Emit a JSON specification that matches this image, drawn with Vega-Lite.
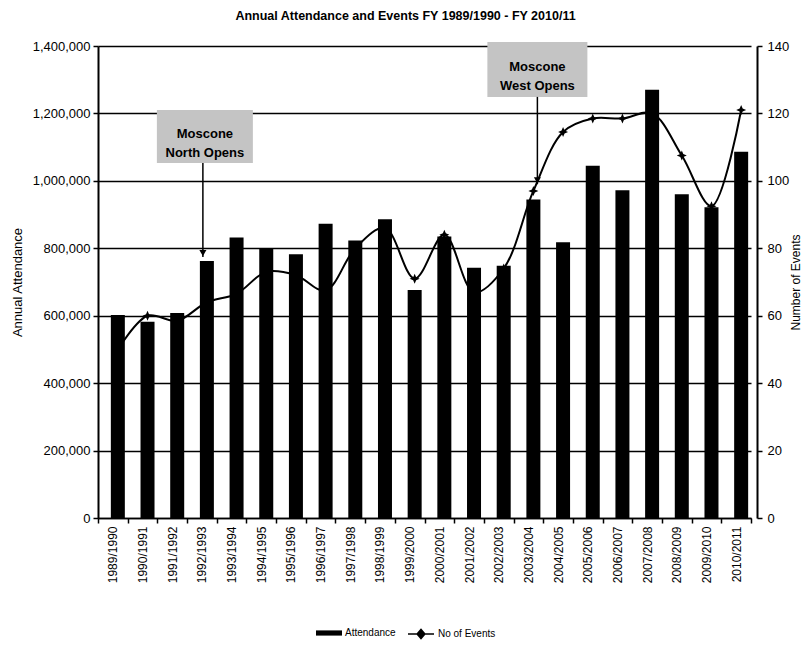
{
  "$schema": "https://vega.github.io/schema/vega-lite/v6.json",
  "width": 659,
  "height": 472,
  "autosize": {"type": "none"},
  "padding": {"left": 98, "top": 46, "right": 52, "bottom": 136},
  "background": "white",
  "config": {
    "font": "Liberation Sans",
    "view": {"stroke": null},
    "axis": {"labelColor": "black", "titleColor": "black", "tickColor": "black", "domainColor": "black"},
    "legend": {"labelColor": "black"}
  },
  "title": {
    "text": "Annual Attendance and Events FY 1989/1990 - FY 2010/11",
    "font": "Liberation Sans",
    "fontSize": 12.5,
    "fontWeight": "bold",
    "color": "black",
    "anchor": "middle",
    "frame": "group",
    "dx": -22,
    "offset": 18
  },
  "datasets": {
    "main": [
      {"season": "1989/1990", "attendance": 602000, "events": 50},
      {"season": "1990/1991", "attendance": 582000, "events": 60},
      {"season": "1991/1992", "attendance": 608000, "events": 58.5},
      {"season": "1992/1993", "attendance": 762000, "events": 64},
      {"season": "1993/1994", "attendance": 832000, "events": 66.5},
      {"season": "1994/1995", "attendance": 798000, "events": 73},
      {"season": "1995/1996", "attendance": 782000, "events": 72},
      {"season": "1996/1997", "attendance": 873000, "events": 67.5},
      {"season": "1997/1998", "attendance": 823000, "events": 80},
      {"season": "1998/1999", "attendance": 886000, "events": 86},
      {"season": "1999/2000", "attendance": 676000, "events": 71},
      {"season": "2000/2001", "attendance": 835000, "events": 84},
      {"season": "2001/2002", "attendance": 742000, "events": 67},
      {"season": "2002/2003", "attendance": 748000, "events": 74},
      {"season": "2003/2004", "attendance": 945000, "events": 97},
      {"season": "2004/2005", "attendance": 818000, "events": 114.5},
      {"season": "2005/2006", "attendance": 1045000, "events": 118.5},
      {"season": "2006/2007", "attendance": 972000, "events": 118.5},
      {"season": "2007/2008", "attendance": 1270000, "events": 120},
      {"season": "2008/2009", "attendance": 960000, "events": 107.5},
      {"season": "2009/2010", "attendance": 922000, "events": 92.5},
      {"season": "2010/2011", "attendance": 1086000, "events": 121}
    ],
    "north": [
      {"season": "1992/1993", "top": 1210000, "bottom": 1053000, "mid": 1140000, "tip": 774000, "label": "Moscone\nNorth Opens"}
    ],
    "west": [
      {"season": "2003/2004", "top": 1412000, "bottom": 1249000, "mid": 1339000, "tip": 990000, "label": "Moscone\nWest Opens"}
    ]
  },
  "layer": [
    {
      "layer": [
        {
          "data": {"name": "main"},
          "mark": {"type": "bar", "width": 14, "xOffset": 5},
          "encoding": {
            "x": {
              "field": "season", "type": "ordinal",
              "scale": {"range": [0, 653], "paddingInner": 0, "paddingOuter": 0},
              "axis": {
                "title": null, "labelAngle": -90, "labelFontSize": 12, "labelPadding": 3,
                "tickBand": "extent", "tickSize": 5, "tickWidth": 1.5,
                "domainWidth": 1.5, "grid": false
              }
            },
            "y": {
              "field": "attendance", "type": "quantitative",
              "scale": {"domain": [0, 1400000], "nice": false},
              "axis": {
                "title": "Annual Attendance", "titleFontSize": 13, "titleFontWeight": "normal",
                "titlePadding": 8,
                "values": [0, 200000, 400000, 600000, 800000, 1000000, 1200000, 1400000],
                "labelExpr": "format(datum.value, ',')", "labelFontSize": 13, "labelPadding": 3,
                "grid": true, "gridColor": "black", "gridWidth": 1.5, "gridOpacity": 1,
                "domainWidth": 2, "tickSize": 5, "tickWidth": 1.5
              }
            },
            "fill": {
              "datum": "Attendance",
              "scale": {"range": ["black"]},
              "legend": {
                "title": null, "orient": "none", "legendX": 218, "legendY": 574,
                "padding": 0, "symbolType": "M-1,-0.2H1V0.2H-1Z", "symbolSize": 676,
                "symbolStrokeWidth": 0, "labelFontSize": 10, "labelOffset": 3
              }
            }
          }
        },
        {
          "data": {"name": "north"},
          "mark": {"type": "bar", "width": 96, "xOffset": 3, "color": "#c4c4c4"},
          "encoding": {
            "x": {"field": "season", "type": "ordinal"},
            "y": {"field": "top", "type": "quantitative", "scale": {"domain": [0, 1400000], "nice": false}},
            "y2": {"field": "bottom"}
          }
        },
        {
          "data": {"name": "north"},
          "mark": {"type": "text", "xOffset": 3, "lineBreak": "\n", "lineHeight": 19, "fontSize": 13, "fontWeight": "bold", "color": "black", "baseline": "middle"},
          "encoding": {
            "x": {"field": "season", "type": "ordinal"},
            "y": {"field": "mid", "type": "quantitative", "scale": {"domain": [0, 1400000], "nice": false}},
            "text": {"field": "label"}
          }
        },
        {
          "data": {"name": "north"},
          "mark": {"type": "rule", "xOffset": 1, "strokeWidth": 1.5, "color": "black"},
          "encoding": {
            "x": {"field": "season", "type": "ordinal"},
            "y": {"field": "bottom", "type": "quantitative", "scale": {"domain": [0, 1400000], "nice": false}},
            "y2": {"field": "tip"}
          }
        },
        {
          "data": {"name": "north"},
          "mark": {"type": "point", "shape": "triangle-down", "filled": true, "size": 50, "color": "black", "opacity": 1, "xOffset": 1, "yOffset": -4},
          "encoding": {
            "x": {"field": "season", "type": "ordinal"},
            "y": {"field": "tip", "type": "quantitative", "scale": {"domain": [0, 1400000], "nice": false}}
          }
        },
        {
          "data": {"name": "west"},
          "mark": {"type": "bar", "width": 100, "xOffset": 9, "color": "#c4c4c4"},
          "encoding": {
            "x": {"field": "season", "type": "ordinal"},
            "y": {"field": "top", "type": "quantitative", "scale": {"domain": [0, 1400000], "nice": false}},
            "y2": {"field": "bottom"}
          }
        },
        {
          "data": {"name": "west"},
          "mark": {"type": "text", "xOffset": 9, "lineBreak": "\n", "lineHeight": 19, "fontSize": 13, "fontWeight": "bold", "color": "black", "baseline": "middle"},
          "encoding": {
            "x": {"field": "season", "type": "ordinal"},
            "y": {"field": "mid", "type": "quantitative", "scale": {"domain": [0, 1400000], "nice": false}},
            "text": {"field": "label"}
          }
        },
        {
          "data": {"name": "west"},
          "mark": {"type": "rule", "xOffset": 9, "strokeWidth": 1.5, "color": "black"},
          "encoding": {
            "x": {"field": "season", "type": "ordinal"},
            "y": {"field": "bottom", "type": "quantitative", "scale": {"domain": [0, 1400000], "nice": false}},
            "y2": {"field": "tip"}
          }
        },
        {
          "data": {"name": "west"},
          "mark": {"type": "point", "shape": "triangle-down", "filled": true, "size": 50, "color": "black", "opacity": 1, "xOffset": 9, "yOffset": -4},
          "encoding": {
            "x": {"field": "season", "type": "ordinal"},
            "y": {"field": "tip", "type": "quantitative", "scale": {"domain": [0, 1400000], "nice": false}}
          }
        }
      ]
    },
    {
      "data": {"name": "main"},
      "layer": [
        {
          "mark": {"type": "line", "interpolate": "catmull-rom", "strokeWidth": 2, "xOffset": 5},
          "encoding": {
            "x": {"field": "season", "type": "ordinal", "scale": {"range": [0, 653], "paddingInner": 0, "paddingOuter": 0}},
            "y": {
              "field": "events", "type": "quantitative",
              "scale": {"domain": [0, 140], "nice": false},
              "axis": {
                "orient": "right", "title": "Number of Events", "titleFontSize": 12, "titleFontWeight": "normal",
                "titleAngle": 270, "titleBaseline": "top", "titlePadding": 2,
                "values": [0, 20, 40, 60, 80, 100, 120, 140], "labelFontSize": 13, "labelPadding": 5,
                "grid": false, "domainWidth": 2, "tickSize": 5, "tickWidth": 1.5
              }
            },
            "stroke": {
              "datum": "No of Events",
              "scale": {"range": ["black"]},
              "legend": {
                "title": null, "orient": "none", "legendX": 309, "legendY": 574,
                "padding": 0, "symbolType": "M-1,0H1M-0.3,0L0,-0.35L0.3,0L0,0.35Z", "symbolSize": 676,
                "symbolFillColor": "black", "symbolStrokeColor": "black", "symbolStrokeWidth": 1.5,
                "labelFontSize": 10, "labelOffset": 3
              }
            }
          }
        },
        {
          "mark": {"type": "point", "shape": "M0,-1L0.3,-0.3L1,0L0.3,0.3L0,1L-0.3,0.3L-1,0L-0.3,-0.3Z", "filled": true, "size": 100, "color": "black", "opacity": 1, "xOffset": 5},
          "encoding": {
            "x": {"field": "season", "type": "ordinal"},
            "y": {"field": "events", "type": "quantitative", "scale": {"domain": [0, 140], "nice": false}}
          }
        }
      ]
    }
  ],
  "resolve": {"scale": {"y": "independent"}}
}
